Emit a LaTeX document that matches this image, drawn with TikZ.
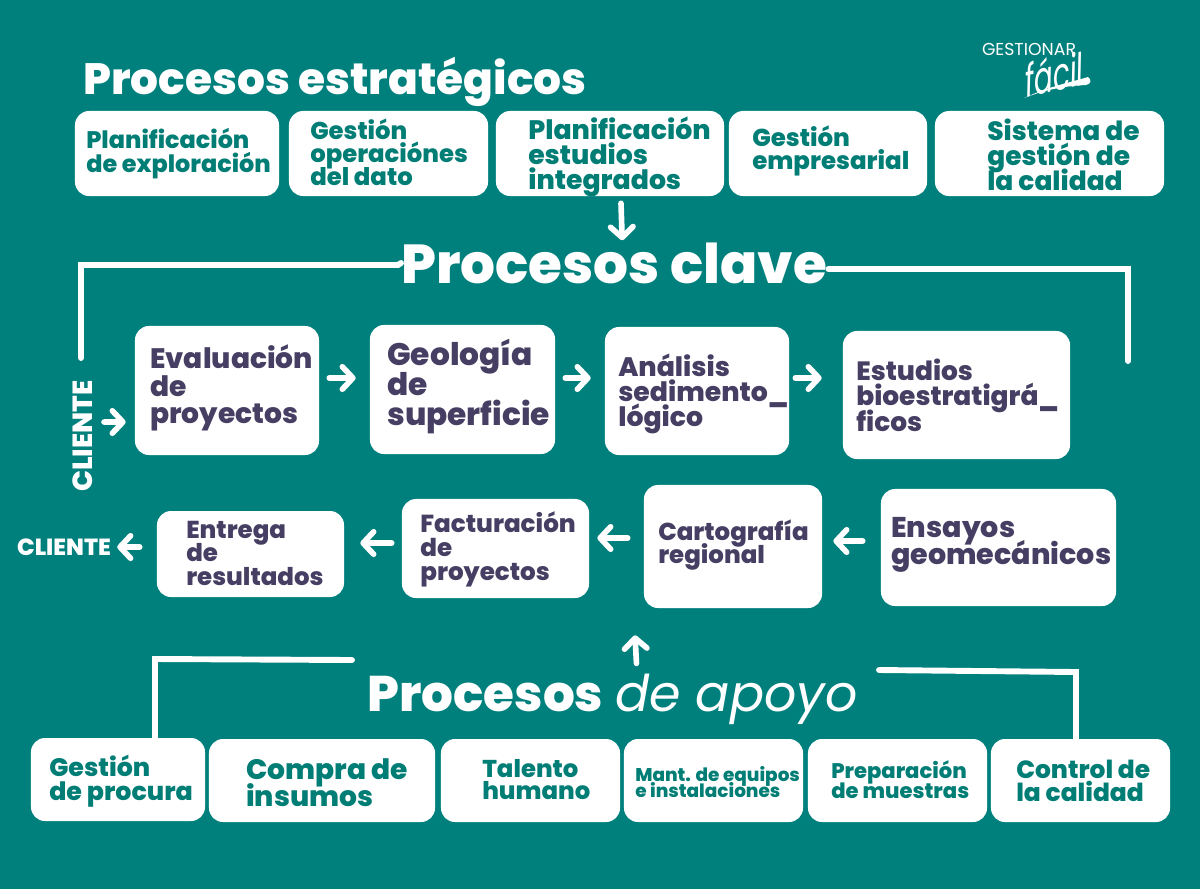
\documentclass[tikz,border=0pt]{standalone}
\usepackage{fontspec}
\setmainfont[BoldFont={Poppins ExtraBold}]{Poppins}
\usetikzlibrary{arrows.meta,calc}
\definecolor{fondo}{RGB}{0,128,125}
\definecolor{verde}{RGB}{0,125,117}
\definecolor{morado}{RGB}{70,63,99}
\newcommand{\tam}[2]{\fontsize{#1}{#2}\selectfont\bfseries\lineskiplimit=-20pt\relax}
\tikzset{
    caja/.style={fill=white, rounded corners=10pt, inner sep=0pt},
    textoverde/.style={anchor=west, align=left, inner sep=0pt, text=verde},
    textomorado/.style={anchor=west, align=left, inner sep=0pt, text=morado},
    titulo/.style={anchor=west, inner sep=0pt, text=white},
    flecha/.style={white, line width=4pt, line cap=round, {-{Straight Barb[round,length=7.5pt,width=16pt]}}},
    marco/.style={white, line width=4.2pt, line cap=round}
}
\begin{document}
\begin{tikzpicture}[x=0.025cm,y=-0.025cm]
    % Fondo
    \fill [fondo] (0,0) rectangle (1200,889);

    % Logo
    \node [inner sep=0pt, text=white] (gestionar) at (1029,49) {\fontsize{12.3pt}{13pt}\selectfont GESTIONAR};
    \node [inner sep=0pt, text=white, yscale=1.6, rotate=8] (facil) at (1054,74) {\fontsize{20pt}{21pt}\selectfont\itshape fácil};
    \fill [white] (1024,98) .. controls (1050,86) and (1072,82) .. (1088,77) .. controls (1092,80) and (1091,84) .. (1086,85) .. controls (1064,86) and (1044,90) .. (1024,98) -- cycle;

    % Procesos estrategicos
    \node [titulo, font=\tam{31.2pt}{33pt}] (estrategicos) at (83,82) {Procesos estratégicos};
    \node [caja, minimum width=5.10cm, minimum height=2.125cm] (planexplora) at (177,153.5) {};
    \node [caja, minimum width=4.975cm, minimum height=2.125cm] (gestoper) at (388.5,153.5) {};
    \node [caja, minimum width=5.70cm, minimum height=2.125cm] (planestudios) at (610,153.5) {};
    \node [caja, minimum width=4.95cm, minimum height=2.125cm] (gestempresa) at (828,153.5) {};
    \node [caja, minimum width=5.725cm, minimum height=2.125cm] (sistcalidad) at (1049.5,153.5) {};
    \node [textoverde, font=\tam{17pt}{17pt}] (tplanexplora) at (86,154) {Planificación\\de exploración};
    \node [textoverde, font=\tam{17.3pt}{16.5pt}] (tgestoper) at (310,152.5) {Gestión\\operaciónes\\del dato};
    \node [textoverde, font=\tam{19pt}{18pt}] (tplanestudios) at (528,157) {Planificación\\estudios\\integrados};
    \node [textoverde, font=\tam{17.4pt}{16.5pt}] (tgestempresa) at (752,151) {Gestión\\empresarial};
    \node [textoverde, font=\tam{18.8pt}{17.8pt}] (tsistcalidad) at (987,155) {Sistema de\\gestión de\\la calidad};

    % Procesos clave
    \node [titulo, font=\tam{39pt}{40pt}] (clave) at (401,263) {Procesos clave};
    \coordinate (marcoa) at (81,358);
    \coordinate (marcob) at (1128,361);
    \draw [marco] (clave.west) -- ++(-3,2) -| (marcoa);
    \draw [marco] ($(clave.east)+(1,6)$) -| (marcob);
    \draw [flecha] ($(planestudios.south)+(11,7)$) -- ($(clave.north)+(8,-2)$);

    \node [caja, minimum width=4.60cm, minimum height=3.225cm] (evaluacion) at (227,390.5) {};
    \node [caja, minimum width=4.625cm, minimum height=3.225cm] (geologia) at (462.5,389.5) {};
    \node [caja, minimum width=4.60cm, minimum height=3.20cm] (analisis) at (697,391) {};
    \node [caja, minimum width=5.675cm, minimum height=3.20cm] (estudios) at (956.5,395) {};
    \node [textomorado, font=\tam{20pt}{19.5pt}] (tevaluacion) at (150,388) {Evaluación\\de\\proyectos};
    \node [textomorado, font=\tam{22.2pt}{21pt}] (tgeologia) at (387,386.5) {Geología\\de\\superficie};
    \node [textomorado, font=\tam{19pt}{17.7pt}] (tanalisis) at (618,394) {Análisis\\sedimento\_\\lógico};
    \node [textomorado, font=\tam{18.8pt}{18pt}] (testudios) at (856,395) {Estudios\\bioestratigrá\_\\ficos};

    \node [caja, minimum width=4.675cm, minimum height=2.15cm] (entrega) at (250.5,554) {};
    \node [caja, minimum width=4.675cm, minimum height=2.475cm] (facturacion) at (495.5,548.5) {};
    \node [caja, minimum width=4.45cm, minimum height=3.075cm] (cartografia) at (733,546.5) {};
    \node [caja, minimum width=5.875cm, minimum height=2.925cm] (ensayos) at (998.5,547.5) {};
    \node [textomorado, font=\tam{17.4pt}{16.7pt}] (tentrega) at (186,553) {Entrega\\de\\resultados};
    \node [textomorado, font=\tam{17.5pt}{17pt}] (tfacturacion) at (420,549) {Facturación\\de\\proyectos};
    \node [textomorado, font=\tam{17.4pt}{17pt}] (tcartografia) at (658,545) {Cartografía\\regional};
    \node [textomorado, font=\tam{20.3pt}{19pt}] (tensayos) at (891,545) {Ensayos\\geomecánicos};

    % Cliente
    \node [inner sep=0pt, text=white, rotate=90, font=\tam{19.7pt}{20pt}] (clientea) at (83,436) {CLIENTE};
    \node [inner sep=0pt, text=white, font=\tam{16.6pt}{17pt}] (clienteb) at (64,547) {CLIENTE};

    % Flechas
    \draw [flecha] ($(clientea.center)+(21,-14)$) -- ($(evaluacion.west)+(-9,31.5)$);
    \draw [flecha] ($(evaluacion.east)+(10,-12.5)$) -- ($(geologia.west)+(-14,-11.5)$);
    \draw [flecha] ($(geologia.east)+(10,-11.5)$) -- ($(analisis.west)+(-14,-13)$);
    \draw [flecha] ($(analisis.east)+(6,-13)$) -- ($(estudios.west)+(-21,-17)$);
    \draw [flecha] ($(ensayos.west)+(-18,-6.5)$) -- ($(cartografia.east)+(11,-5.5)$);
    \draw [flecha] ($(cartografia.west)+(-16,-8.5)$) -- ($(facturacion.east)+(8,-10.5)$);
    \draw [flecha] ($(facturacion.west)+(-10,-5.5)$) -- ($(entrega.east)+(16,-11)$);
    \draw [flecha] ($(entrega.west)+(-17,-7)$) -- ($(clienteb.east)+(6,0)$);

    % Procesos de apoyo
    \node [titulo, font=\tam{35.6pt}{36pt}] (apoyo) at (367,699) {Procesos\hspace{8.5pt}{\fontsize{36pt}{36pt}\selectfont\mdseries\itshape de apoyo}};
    \coordinate (marcoc) at (155,738);
    \coordinate (marcod) at (1076,740);
    \coordinate (marcoe) at (352,660);
    \coordinate (marcof) at (879,670);
    \draw [marco] (marcoe) -- (155,659) -- (marcoc);
    \draw [marco] (marcof) -- (1076,672) -- (marcod);
    \draw [flecha] ($(apoyo.north)+(24,-10)$) -- ($(cartografia.south)+(-98,27)$);

    \node [caja, minimum width=4.35cm, minimum height=2.075cm] (procura) at (118,779.5) {};
    \node [caja, minimum width=5.65cm, minimum height=2.075cm] (insumos) at (322,780.5) {};
    \node [caja, minimum width=4.475cm, minimum height=2.075cm] (talento) at (530.5,780.5) {};
    \node [caja, minimum width=4.475cm, minimum height=2.075cm] (equipos) at (713.5,780.5) {};
    \node [caja, minimum width=4.475cm, minimum height=2.075cm] (muestras) at (897.5,780.5) {};
    \node [caja, minimum width=4.475cm, minimum height=2.075cm] (control) at (1080.5,780.5) {};
    \node [textoverde, font=\tam{18pt}{17pt}] (tprocura) at (49,781) {Gestión\\de procura};
    \node [textoverde, font=\tam{20pt}{19pt}] (tinsumos) at (246,783) {Compra de\\insumos};
    \node [textoverde, font=\tam{17.3pt}{15.6pt}] (ttalento) at (482,780) {Talento\\humano};
    \node [textoverde, font=\tam{13.1pt}{12pt}] (tequipos) at (635,782) {Mant. de equipos\\e instalaciones};
    \node [textoverde, font=\tam{15pt}{14.2pt}] (tmuestras) at (831,780) {Preparación\\de muestras};
    \node [textoverde, font=\tam{17.7pt}{16.5pt}] (tcontrol) at (1016,781) {Control de\\la calidad};
\end{tikzpicture}
\end{document}
